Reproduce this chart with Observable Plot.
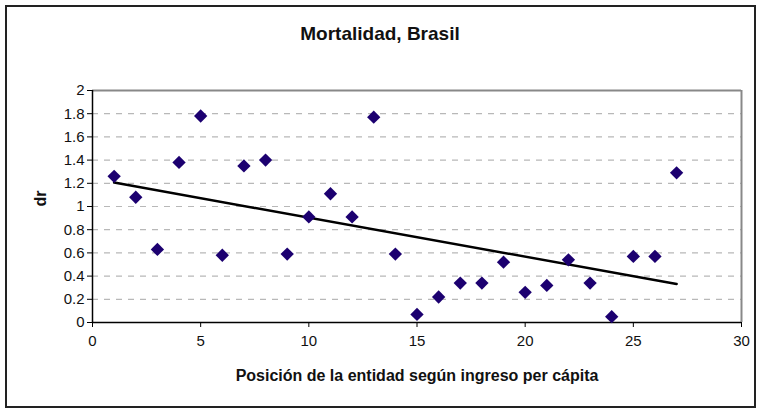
<!DOCTYPE html>
<html>
<head>
<meta charset="utf-8">
<script src="https://cdn.jsdelivr.net/npm/d3@7"></script>
<script src="https://cdn.jsdelivr.net/npm/@observablehq/plot@0.6"></script>
<style>
  html, body { margin: 0; padding: 0; background: #fff; }
  #wrap { position: relative; width: 760px; height: 412px; overflow: hidden; font-family: "Liberation Sans", Arial, sans-serif; }
  #frame { position: absolute; left: 5px; top: 5px; width: 747px; height: 399px; border: 2px solid #222; pointer-events: none; }
  #title { position: absolute; left: 0; width: 760px; top: 23px; text-align: center; font-size: 19px; font-weight: bold; color: #111; }
  #chart { position: absolute; left: 0; top: 0; }
</style>
</head>
<body>
<div id="wrap">
  <div id="chart"></div>
  <div id="title">Mortalidad, Brasil</div>
  <div id="frame"></div>
</div>
<script>
const title = "Mortalidad, Brasil";
const xLabel = "Posición de la entidad según ingreso per cápita";
const yLabel = "dr";
const position = [1,2,3,4,5,6,7,8,9,10,11,12,13,14,15,16,17,18,19,20,21,22,23,24,25,26,27];
const dr = [1.26,1.08,0.63,1.38,1.78,0.58,1.35,1.40,0.59,0.91,1.11,0.91,1.77,0.59,0.07,0.22,0.34,0.34,0.52,0.26,0.32,0.54,0.34,0.05,0.57,0.57,1.29];
const xTicks = [0,5,10,15,20,25,30];
const yTicks = [0,0.2,0.4,0.6,0.8,1,1.2,1.4,1.6,1.8,2];

const data = position.map((p, i) => ({x: p, y: dr[i]}));

const chart = Plot.plot({
  width: 760,
  height: 412,
  marginLeft: 92,
  marginRight: 19,
  marginTop: 90,
  marginBottom: 90,
  style: {fontFamily: "'Liberation Sans', Arial, sans-serif", fontSize: "15px", color: "#111", background: "transparent"},
  x: {domain: [0, 30], ticks: xTicks, label: null},
  y: {domain: [0, 2], ticks: yTicks, label: null},
  marks: [
    Plot.gridY(yTicks.filter(t => t > 0 && t < 2), {stroke: "#b8b8b8", strokeOpacity: 1, strokeWidth: 1.2, strokeDasharray: "6,6"}),
    Plot.ruleY([2], {stroke: "#888", strokeWidth: 2}),
    Plot.ruleX([30], {stroke: "#888", strokeWidth: 2}),
    Plot.ruleY([0], {stroke: "#000", strokeWidth: 1.5}),
    Plot.ruleX([0], {stroke: "#000", strokeWidth: 1.5}),
    Plot.axisY({ticks: yTicks, tickSize: 5, tickPadding: 3, tickFormat: d => String(d), fontSize: 15, stroke: "#000", label: null}),
    Plot.axisX({ticks: xTicks, tickSize: 5, tickPadding: 8, tickFormat: d => String(d), fontSize: 15, stroke: "#000", label: null}),
    Plot.linearRegressionY(data, {x: "x", y: "y", ci: 0, stroke: "#000", strokeWidth: 2.5}),
    Plot.dot(data, {x: "x", y: "y", symbol: "diamond2", r: 6, fill: "#1c0070", stroke: "none"}),
    Plot.text([xLabel], {frameAnchor: "bottom", dy: 58, fontSize: 16, fontWeight: "bold", fill: "#111"}),
    Plot.text([yLabel], {frameAnchor: "left", dx: -52, rotate: -90, fontSize: 16, fontWeight: "bold", fill: "#111"})
  ]
});
document.getElementById("chart").appendChild(chart);
</script>
</body>
</html>
